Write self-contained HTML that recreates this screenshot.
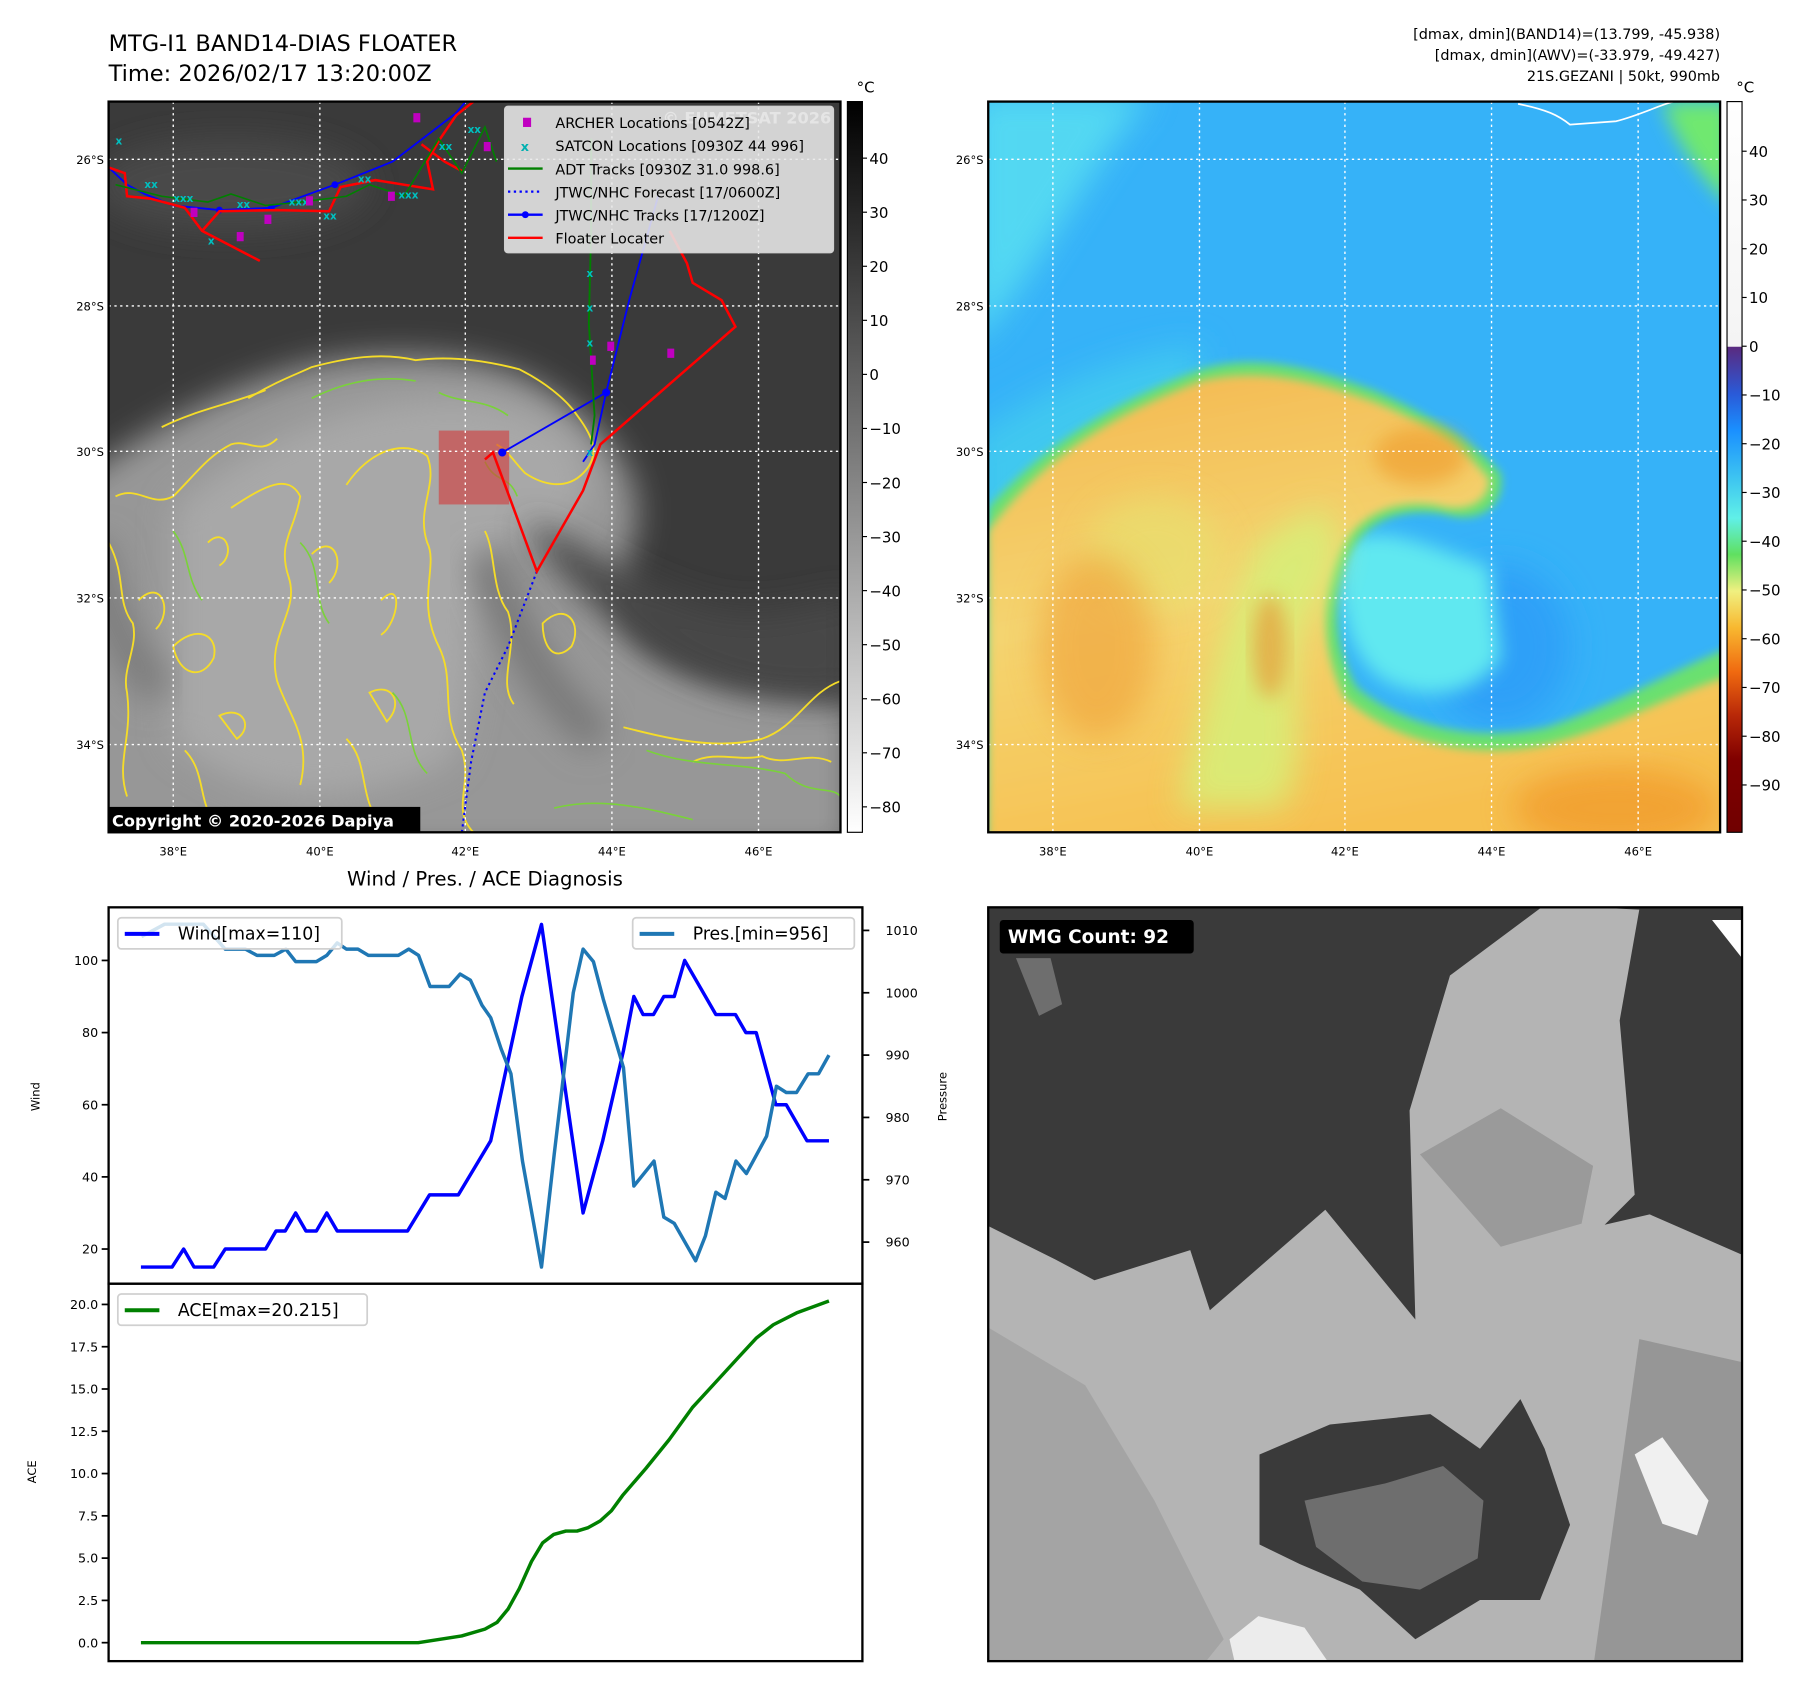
<!DOCTYPE html>
<html><head><meta charset="utf-8">
<style>
html,body{margin:0;padding:0;background:#fff;}
svg{display:block;font-family:"DejaVu Sans","Liberation Sans",sans-serif;}
</style></head>
<body>
<svg id="root" width="1801" height="1690" viewBox="0 0 1560 1464" xmlns="http://www.w3.org/2000/svg">
<defs>
<filter id="blur8" x="-20%" y="-20%" width="140%" height="140%"><feGaussianBlur stdDeviation="8"/></filter>
<filter id="blur4"><feGaussianBlur stdDeviation="4"/></filter>
<filter id="blur14" x="-30%" y="-30%" width="160%" height="160%"><feGaussianBlur stdDeviation="14"/></filter>
<clipPath id="c1"><rect x="94" y="88" width="634" height="633"/></clipPath>
<clipPath id="c2"><rect x="856" y="88" width="634" height="633"/></clipPath>
<clipPath id="c3"><rect x="856" y="786" width="653" height="653"/></clipPath>
<linearGradient id="gray" x1="0" y1="0" x2="0" y2="1"><stop offset="0" stop-color="#000"/><stop offset="1" stop-color="#fff"/></linearGradient>
<linearGradient id="cb2" x1="0" y1="0" x2="0" y2="1">
<stop offset="0" stop-color="#ffffff"/><stop offset="0.335" stop-color="#f4f4f4"/>
<stop offset="0.336" stop-color="#5a2a80"/><stop offset="0.40" stop-color="#2a5ad8"/>
<stop offset="0.45" stop-color="#1a90ff"/><stop offset="0.52" stop-color="#40c8f0"/>
<stop offset="0.57" stop-color="#60f0e8"/><stop offset="0.62" stop-color="#60e060"/>
<stop offset="0.67" stop-color="#f0f080"/><stop offset="0.72" stop-color="#f8b830"/>
<stop offset="0.78" stop-color="#f06a10"/><stop offset="0.84" stop-color="#b82808"/>
<stop offset="0.90" stop-color="#800000"/><stop offset="1" stop-color="#700000"/></linearGradient>
<linearGradient id="warm" x1="0" y1="0" x2="0.3" y2="1"><stop offset="0" stop-color="#f4b850"/><stop offset="0.5" stop-color="#f4d470"/><stop offset="1" stop-color="#f6c050"/></linearGradient>
</defs>

<text x="94" y="44" font-size="19.5">MTG-I1 BAND14-DIAS FLOATER</text>
<text x="94" y="70" font-size="19.5">Time: 2026/02/17 13:20:00Z</text>
<g font-size="12.5" text-anchor="end">
<text x="1490" y="34">[dmax, dmin](BAND14)=(13.799, -45.938)</text>
<text x="1490" y="52">[dmax, dmin](AWV)=(-33.979, -49.427)</text>
<text x="1490" y="70">21S.GEZANI | 50kt, 990mb</text>
</g>

<!-- Panel 1 satellite -->
<g clip-path="url(#c1)">
<rect x="94" y="88" width="634" height="633" fill="#3a3a3a"/>
<ellipse cx="200" cy="160" rx="120" ry="40" fill="#484848" filter="url(#blur14)"/>
<path d="M60,420 C120,380 180,340 260,318 C330,300 420,305 470,335 C520,365 560,410 550,460 C540,500 520,520 560,560 C620,600 680,590 740,610 L740,740 L60,740 Z" fill="#979797" filter="url(#blur14)"/>
<path d="M150,440 C220,380 300,345 400,345 C470,350 510,380 510,420 C500,460 470,470 430,470 C400,520 420,600 390,660 C300,700 220,700 150,640 Z" fill="#a8a8a8" filter="url(#blur14)"/>
<path d="M455,450 C500,470 540,500 600,520 C660,540 700,520 740,515 L740,600 C680,610 620,600 560,560 C520,530 480,500 455,450Z" fill="#474747" filter="url(#blur14)"/>
<path d="M420,480 C440,540 470,600 520,640" stroke="#777" stroke-width="30" fill="none" filter="url(#blur14)"/>
<path d="M80,470 C90,520 100,560 140,600" stroke="#7a7a7a" stroke-width="30" fill="none" filter="url(#blur14)"/>
<g fill="none" stroke="#f5dc28" stroke-width="1.6">
<path d="M215,345 C240,330 255,325 270,318 C300,310 330,305 360,312 C390,308 420,312 450,320 C470,330 490,345 500,360 C515,380 520,395 505,410 C490,425 470,420 455,410 C445,400 440,390 430,385"/>
<path d="M140,370 C170,355 200,350 230,338 M100,430 C120,420 130,440 150,430 C170,410 180,395 200,385 C215,380 225,395 240,380"/>
<path d="M94,470 C110,500 100,520 115,540 C120,560 105,580 110,600 C115,640 100,660 110,690"/>
<path d="M200,440 C230,420 250,410 260,430 C255,460 240,470 250,500 C260,530 230,550 240,590 C250,620 270,640 260,680"/>
<path d="M300,420 C320,390 350,380 370,395 C380,420 360,440 370,470 C380,490 360,520 380,560 C395,590 380,620 400,650 C410,680 390,700 410,721"/>
<path d="M420,460 C430,480 425,510 440,530 C450,560 430,590 445,610"/>
<path d="M470,540 C490,520 505,540 495,560 C480,575 470,560 470,540Z"/>
<path d="M540,630 C580,640 620,650 660,640 C690,630 700,600 728,590"/>
<path d="M600,660 C620,650 640,660 660,655 C680,665 700,650 720,660"/>
<path d="M150,560 C170,540 190,550 185,570 C175,590 155,585 150,560Z M190,620 C210,610 220,630 205,640Z M320,600 C340,590 350,610 335,625Z"/>
<path d="M300,640 C320,660 310,690 330,715 M160,650 C180,670 170,700 190,715"/>
<path d="M120,520 C140,500 150,530 135,545 M270,480 C290,460 300,490 285,505 M330,520 C350,500 345,540 330,550 M180,470 C195,455 205,480 190,490"/>
</g>
<g fill="none" stroke="#7ad23a" stroke-width="1.4">
<path d="M270,345 C300,330 330,325 360,330 M380,340 C400,350 420,345 440,360 M150,460 C165,480 160,500 175,520 M260,470 C280,490 270,520 285,540 M340,600 C360,620 350,650 370,670 M560,650 C600,665 640,660 680,670 C700,690 720,680 728,690 M480,700 C520,690 560,700 600,710 M420,400 C430,420 440,410 448,430"/>
</g>
<rect x="380" y="373" width="61" height="64" fill="#d43a3a" opacity="0.6"/>
</g>
<g stroke="#fff" stroke-width="1.2" stroke-dasharray="2,3">
<line x1="150" y1="88" x2="150" y2="721"/><line x1="277" y1="88" x2="277" y2="721"/><line x1="403" y1="88" x2="403" y2="721"/><line x1="530" y1="88" x2="530" y2="721"/><line x1="657" y1="88" x2="657" y2="721"/>
<line x1="94" y1="138" x2="728" y2="138"/><line x1="94" y1="265" x2="728" y2="265"/><line x1="94" y1="391" x2="728" y2="391"/><line x1="94" y1="518" x2="728" y2="518"/><line x1="94" y1="645" x2="728" y2="645"/>
</g>
<g clip-path="url(#c1)">
<polyline points="94,145 110,160 125,168 150,178 190,182 235,180 290,160 340,140 395,98 410,80" fill="none" stroke="#0000ff" stroke-width="1.6"/>
<polyline points="570,170 545,260 525,340 515,385 505,400" fill="none" stroke="#0000ff" stroke-width="1.6"/>
<polyline points="525,340 435,392" fill="none" stroke="#0000ff" stroke-width="1.6"/>
<circle cx="525" cy="340" r="3.5" fill="#0000ff"/><circle cx="435" cy="392" r="3.5" fill="#0000ff"/><circle cx="190" cy="182" r="3" fill="#0000ff"/><circle cx="235" cy="180" r="3" fill="#0000ff"/><circle cx="290" cy="160" r="3" fill="#0000ff"/>
<polyline points="465,495 440,560 420,600 408,660 400,721" fill="none" stroke="#0000ff" stroke-width="1.8" stroke-dasharray="2,3"/>
<polyline points="94,145 108,150 110,170 130,172 160,180 175,200 225,226" fill="none" stroke="#ff0000" stroke-width="2.2"/>
<polyline points="175,200 190,183 240,182 285,183 295,162 325,156 375,164 370,140 380,122 395,100 410,88" fill="none" stroke="#ff0000" stroke-width="2.2"/>
<polyline points="365,125 385,140 400,148" fill="none" stroke="#ff0000" stroke-width="2.2"/>
<polyline points="580,200 595,228 600,245 625,260 637,283 520,385 505,425 465,495 427,392 420,398" fill="none" stroke="#ff0000" stroke-width="2.2"/>
<polyline points="512,120 512,200 510,280 515,360 512,385" fill="none" stroke="#008000" stroke-width="1.6"/>
<polyline points="100,160 140,170 180,175 200,168 230,178 260,175 300,170 320,160 350,170 380,120 400,150 420,110 430,140" fill="none" stroke="#008000" stroke-width="1.4"/>
<g fill="#00c0c0" font-size="9" font-weight="bold">
<text x="100" y="125">x</text><text x="125" y="163">xx</text><text x="150" y="175">xxx</text><text x="180" y="212">x</text><text x="205" y="180">xx</text><text x="250" y="178">xxx</text><text x="280" y="190">xx</text><text x="310" y="158">xx</text><text x="345" y="172">xxx</text><text x="380" y="130">xx</text><text x="405" y="115">xx</text><text x="508" y="240">x</text><text x="508" y="270">x</text><text x="508" y="300">x</text><text x="508" y="395">x</text>
</g>
<g fill="#c000c0">
<rect x="358" y="98" width="6" height="8"/><rect x="165" y="180" width="6" height="8"/><rect x="205" y="201" width="6" height="8"/><rect x="229" y="186" width="6" height="8"/><rect x="265" y="170" width="6" height="8"/><rect x="336" y="166" width="6" height="8"/><rect x="419" y="123" width="6" height="8"/><rect x="526" y="296" width="6" height="8"/><rect x="578" y="302" width="6" height="8"/><rect x="511" y="308" width="5" height="8"/>
</g>
<text x="720" y="107" text-anchor="end" font-size="14" font-weight="bold" fill="#cfcfcf">© EUMETSAT 2026</text>
</g>
<rect x="94" y="88" width="634" height="633" fill="none" stroke="#000" stroke-width="2"/>
<g font-size="12.5">
<rect x="437" y="92" width="285" height="127" rx="3" fill="#e8e8e8" fill-opacity="0.88" stroke="#d0d0d0"/>
<rect x="453" y="102" width="7" height="8" fill="#c000c0"/><text x="481" y="111">ARCHER Locations [0542Z]</text>
<text x="451" y="131" fill="#00b0b0" font-weight="bold" font-size="11">x</text><text x="481" y="131">SATCON Locations [0930Z 44 996]</text>
<line x1="440" y1="146" x2="470" y2="146" stroke="#008000" stroke-width="2"/><text x="481" y="151">ADT Tracks [0930Z 31.0 998.6]</text>
<line x1="440" y1="166" x2="470" y2="166" stroke="#0000ff" stroke-width="2" stroke-dasharray="2,3"/><text x="481" y="171">JTWC/NHC Forecast [17/0600Z]</text>
<line x1="440" y1="186" x2="470" y2="186" stroke="#0000ff" stroke-width="2"/><circle cx="455" cy="186" r="3" fill="#0000ff"/><text x="481" y="191">JTWC/NHC Tracks [17/1200Z]</text>
<line x1="440" y1="206" x2="470" y2="206" stroke="#ff0000" stroke-width="2"/><text x="481" y="211">Floater Locater</text>
</g>
<rect x="94" y="699" width="270" height="22" fill="#000"/>
<text x="97" y="716" fill="#fff" font-size="14" font-weight="bold">Copyright © 2020-2026 Dapiya</text>

<rect x="734" y="88" width="13" height="633" fill="url(#gray)" stroke="#000" stroke-width="1"/>
<text x="742" y="80" font-size="13">°C</text>
<g id="cb1ticks" font-size="13"></g>

<!-- Panel 2 -->
<g clip-path="url(#c2)">
<rect x="856" y="88" width="634" height="633" fill="#36b2f8"/>
<path d="M840,80 L1000,80 C960,120 920,200 860,280 L840,300Z" fill="#60e8f0" filter="url(#blur14)" opacity="0.7"/>
<path d="M840,380 C900,340 960,310 1040,300 L1040,420 L840,470Z" fill="#40c8f0" filter="url(#blur14)"/>
<ellipse cx="1300" cy="560" rx="60" ry="70" fill="#2ea0f8" filter="url(#blur14)"/>
<path d="M1440,88 L1500,88 L1500,180 C1470,150 1450,120 1440,88Z" fill="#70e870" filter="url(#blur8)"/>
<path d="M1165,470 C1200,450 1250,480 1290,490 L1300,570 C1280,600 1240,610 1200,590 C1165,570 1155,510 1165,470Z" fill="#60e8f0" filter="url(#blur8)"/>
<path d="M856,440 C900,390 960,350 1040,320 C1090,305 1140,320 1190,338 C1240,360 1280,385 1300,410 C1305,440 1280,455 1250,445 C1215,440 1190,450 1175,470 C1155,500 1150,550 1175,595 C1210,625 1270,645 1340,630 C1400,610 1450,580 1500,560 L1500,740 L856,740Z" fill="#6ae070" filter="url(#blur4)"/>
<path d="M856,460 C900,400 960,360 1040,330 C1090,318 1140,330 1190,348 C1240,368 1270,390 1290,415 C1290,435 1270,445 1245,438 C1210,432 1180,445 1165,470 C1145,505 1140,555 1165,605 C1205,640 1270,660 1340,645 C1400,630 1450,600 1500,585 L1500,740 L856,740Z" fill="url(#warm)" filter="url(#blur4)"/>
<path d="M1140,440 C1170,450 1160,500 1130,540 C1110,600 1140,650 1110,700 L1020,700 C1040,620 1060,540 1090,470Z" fill="#d8ee78" filter="url(#blur14)" opacity="0.9"/>
<ellipse cx="1000" cy="480" rx="60" ry="50" fill="#e8e070" filter="url(#blur14)" opacity="0.7"/>
<ellipse cx="950" cy="560" rx="50" ry="80" fill="#f0a038" filter="url(#blur14)" opacity="0.6"/>
<ellipse cx="1230" cy="395" rx="40" ry="25" fill="#f0a030" filter="url(#blur8)" opacity="0.7"/>
<ellipse cx="1400" cy="700" rx="90" ry="35" fill="#f09020" filter="url(#blur14)" opacity="0.6"/>
<ellipse cx="1100" cy="560" rx="15" ry="45" fill="#e89030" filter="url(#blur8)" opacity="0.6"/>
<path d="M1315,90 C1340,95 1350,100 1360,108 L1400,105 C1420,100 1440,90 1450,88" stroke="#fff" stroke-width="1.5" fill="none"/>
</g>
<g stroke="#fff" stroke-width="1.2" stroke-dasharray="2,3">
<line x1="912" y1="88" x2="912" y2="721"/><line x1="1039" y1="88" x2="1039" y2="721"/><line x1="1165" y1="88" x2="1165" y2="721"/><line x1="1292" y1="88" x2="1292" y2="721"/><line x1="1419" y1="88" x2="1419" y2="721"/>
<line x1="856" y1="138" x2="1490" y2="138"/><line x1="856" y1="265" x2="1490" y2="265"/><line x1="856" y1="391" x2="1490" y2="391"/><line x1="856" y1="518" x2="1490" y2="518"/><line x1="856" y1="645" x2="1490" y2="645"/>
</g>
<rect x="856" y="88" width="634" height="633" fill="none" stroke="#000" stroke-width="2"/>
<rect x="1496" y="88" width="13" height="633" fill="url(#cb2)" stroke="#000" stroke-width="1"/>
<text x="1504" y="80" font-size="13">°C</text>
<g id="cb2ticks" font-size="13"></g>

<g id="mapticks" font-size="10"></g>

<g clip-path="url(#c3)">
<rect x="856" y="786" width="653" height="653" fill="#3a3a3a"/>
<path d="M1338,784 L1420,788 L1403,884 L1412,988 L1416,1035 L1390,1061 L1429,1052 L1509,1087 L1509,1445 L850,1445 L850,1059 L914,1091 L948,1109 L1031,1083 L1048,1135 L1148,1048 L1226,1143 L1221,962 L1256,845 Z" fill="#b4b4b4"/>
<path d="M1230,1000 L1300,960 L1380,1010 L1370,1060 L1300,1080 Z" fill="#9a9a9a"/>
<path d="M856,1150 L940,1200 L1000,1300 L1060,1420 L1040,1445 L856,1445 Z" fill="#a0a0a0" opacity="0.8"/>
<path d="M1420,1160 L1509,1180 L1509,1445 L1380,1445 Z" fill="#8e8e8e" opacity="0.8"/>
<path d="M1091,1260 L1152,1234 L1239,1225 L1282,1255 L1317,1212 L1338,1255 L1360,1321 L1334,1386 L1282,1386 L1226,1420 L1178,1377 L1126,1355 L1091,1338 Z" fill="#3a3a3a"/>
<path d="M1130,1300 L1200,1285 L1250,1270 L1285,1300 L1280,1350 L1230,1377 L1180,1370 L1140,1340 Z" fill="#6e6e6e"/>
<path d="M1065,1420 L1090,1400 L1130,1410 L1152,1442 L1070,1442Z" fill="#ececec"/>
<path d="M1416,1260 L1440,1245 L1480,1300 L1470,1330 L1440,1320Z" fill="#f0f0f0"/>
<path d="M880,830 L910,830 L920,870 L900,880Z" fill="#6e6e6e"/>
<path d="M1483,797 L1509,797 L1509,830Z" fill="#fff"/>
</g>
<rect x="856" y="786" width="653" height="653" fill="none" stroke="#000" stroke-width="2"/>
<rect x="866" y="797" width="168" height="29" rx="3" fill="#000"/>
<text x="873" y="817" fill="#fff" font-size="16" font-weight="bold">WMG Count: 92</text>

<text x="420" y="767" text-anchor="middle" font-size="17">Wind / Pres. / ACE Diagnosis</text>
<g id="charts"></g>
</svg>

<script>
const windT = [0,3.08,4.22,5.25,7.19,8.33,12.32,13.35,14.26,15.29,16.31,17.34,18.37,19.4,26.35,28.52,31.37,34.57,37.65,39.59,43.7,45.64,47.69,48.72,49.63,50.66,51.68,52.71,53.74,56.82,58.76,59.79,60.81,62.75,63.78,65.83,68];
const windV = [15,15,20,15,15,20,20,25,25,30,25,25,30,25,25,35,35,50,90,110,30,50,75,90,85,85,90,90,100,85,85,80,80,60,60,50,50];
const presT = [0.06,2.34,6.16,8.33,10.33,11.47,13.18,14.32,15.29,17.34,18.37,19.4,20.31,21.45,22.48,25.44,26.47,27.44,28.58,30.46,31.55,32.57,33.71,34.57,35.6,36.57,37.71,39.59,40.84,42.73,43.7,44.72,45.69,47.69,48.72,50.71,51.68,52.71,54.82,55.79,56.82,57.73,58.81,59.84,61.84,62.81,63.78,64.8,65.94,66.97,68];
const presV = [1009,1011,1011,1007,1007,1006,1006,1007,1005,1005,1006,1008,1007,1007,1006,1006,1007,1006,1001,1001,1003,1002,998,996,991,987,973,956,974,1000,1007,1005,999,988,969,973,964,963,957,961,968,967,973,971,977,985,984,984,987,987,990];
const aceT = [0,27.4,31.7,34,35.2,36.3,37.4,38.6,39.7,40.8,42,43.1,44.2,45.4,46.5,47.6,49.9,52.2,54.5,56.8,59.1,60.8,62.5,64.8,68];
const aceV = [0,0,0.4,0.8,1.2,2,3.2,4.8,5.9,6.4,6.6,6.6,6.8,7.2,7.8,8.7,10.3,12,13.9,15.4,16.9,18,18.8,19.5,20.2];
const windTicks = [20,40,60,80,100];
const presTicks = [960,970,980,990,1000,1010];
const aceTicks = [0,2.5,5,7.5,10,12.5,15,17.5,20];
const cb1Ticks = [40,30,20,10,0,-10,-20,-30,-40,-50,-60,-70,-80];
const cb2Ticks = [40,30,20,10,0,-10,-20,-30,-40,-50,-60,-70,-80,-90];
const latLabels = ['26°S','28°S','30°S','32°S','34°S'];
const lonLabels = ['38°E','40°E','42°E','44°E','46°E'];

const NS='http://www.w3.org/2000/svg';
function mk(tag, attrs, parent){const e=document.createElementNS(NS,tag);for(const k in attrs)e.setAttribute(k,attrs[k]);parent.appendChild(e);return e;}
const xT = t => 122 + t*8.765;
const yW = v => 1082 - (v-20)*3.125;
const yP = p => 1076 - (p-960)*5.4;
const yA = v => 1423 - v*14.65;
const cy1 = v => 137 - (v-40)*4.683;
const cy2 = v => 131 - (v-40)*4.223;
const minus = v => String(v).replace('-','\u2212');

const C=document.getElementById('charts');
const f1=mk('rect',{x:94,y:786,width:653,height:326,fill:'none',stroke:'#000','stroke-width':2},C);


const f2=mk('rect',{x:94,y:1112,width:653,height:327,fill:'none',stroke:'#000','stroke-width':2},C);



windTicks.forEach(v=>{
  const g=mk('g',{},C);
  
  
  mk('line',{x1:88,x2:94,y1:yW(v),y2:yW(v),stroke:'#000','stroke-width':1.5},g);
  const t=mk('text',{x:85,y:yW(v)+4,'text-anchor':'end','font-size':11},g); t.textContent=v;
});
presTicks.forEach(v=>{
  const g=mk('g',{},C);
  
  
  mk('line',{x1:747,x2:753,y1:yP(v),y2:yP(v),stroke:'#000','stroke-width':1.5},g);
  const t=mk('text',{x:767,y:yP(v)+4,'font-size':11},g); t.textContent=v;
});
aceTicks.forEach(v=>{
  const g=mk('g',{},C);
  
  
  mk('line',{x1:88,x2:94,y1:yA(v),y2:yA(v),stroke:'#000','stroke-width':1.5},g);
  const t=mk('text',{x:85,y:yA(v)+4,'text-anchor':'end','font-size':11},g); t.textContent=v.toFixed(1);
});
const lw=mk('text',{x:0,y:0,'font-size':10,'text-anchor':'middle',transform:'translate(34,950) rotate(-90)'},C); lw.textContent='Wind';


const lp=mk('text',{x:0,y:0,'font-size':10,'text-anchor':'middle',transform:'translate(820,950) rotate(-90)'},C); lp.textContent='Pressure';


const la=mk('text',{x:0,y:0,'font-size':10,'text-anchor':'middle',transform:'translate(31,1275) rotate(-90)'},C); la.textContent='ACE';



const wl=mk('polyline',{points:windT.map((t,i)=>xT(t)+','+yW(windV[i])).join(' '),fill:'none',stroke:'#0000ff','stroke-width':3,'stroke-linejoin':'round'},C);


const pl=mk('polyline',{points:presT.map((t,i)=>xT(t)+','+yP(presV[i])).join(' '),fill:'none',stroke:'#1f77b4','stroke-width':3,'stroke-linejoin':'round'},C);


const al=mk('polyline',{points:aceT.map((t,i)=>xT(t)+','+yA(aceV[i])).join(' '),fill:'none',stroke:'#008000','stroke-width':3,'stroke-linejoin':'round'},C);



function legend(x,y,w,color,label,name){
  const g=mk('g',{},C);
  
  
  mk('rect',{x:x,y:y,width:w,height:27,rx:3,fill:'#fff','fill-opacity':0.8,stroke:'#d0d0d0','stroke-width':1.5},g);
  mk('line',{x1:x+6,x2:x+36,y1:y+14,y2:y+14,stroke:color,'stroke-width':3.5},g);
  const t=mk('text',{x:x+52,y:y+19,'font-size':15},g); t.textContent=label;
}
legend(102,795,194,'#0000ff','Wind[max=110]','wind-legend');
legend(548,795,192,'#1f77b4','Pres.[min=956]','pressure-legend');
legend(102,1121,216,'#008000','ACE[max=20.215]','ace-legend');

const cb1=document.getElementById('cb1ticks');
cb1Ticks.forEach(v=>{
  const g=mk('g',{},cb1);
  
  
  mk('line',{x1:747,x2:751,y1:cy1(v),y2:cy1(v),stroke:'#000'},g);
  const t=mk('text',{x:753,y:cy1(v)+5},g); t.textContent=minus(v);
});
const cb2=document.getElementById('cb2ticks');
cb2Ticks.forEach(v=>{
  const g=mk('g',{},cb2);
  
  
  mk('line',{x1:1509,x2:1513,y1:cy2(v),y2:cy2(v),stroke:'#000'},g);
  const t=mk('text',{x:1515,y:cy2(v)+5},g); t.textContent=minus(v);
});
const mt=document.getElementById('mapticks');
const latY=[138,265,391,518,645], lonX=[150,277,403,530,657];
[0,762].forEach(off=>{
  latLabels.forEach((s,i)=>{
    const t=mk('text',{x:90+off,y:latY[i]+4,'text-anchor':'end'},mt); t.textContent=s;
    
    
  });
  lonLabels.forEach((s,i)=>{
    const t=mk('text',{x:lonX[i]+off,y:741,'text-anchor':'middle'},mt); t.textContent=s;
    
    
  });
});
</script>
</body></html>
